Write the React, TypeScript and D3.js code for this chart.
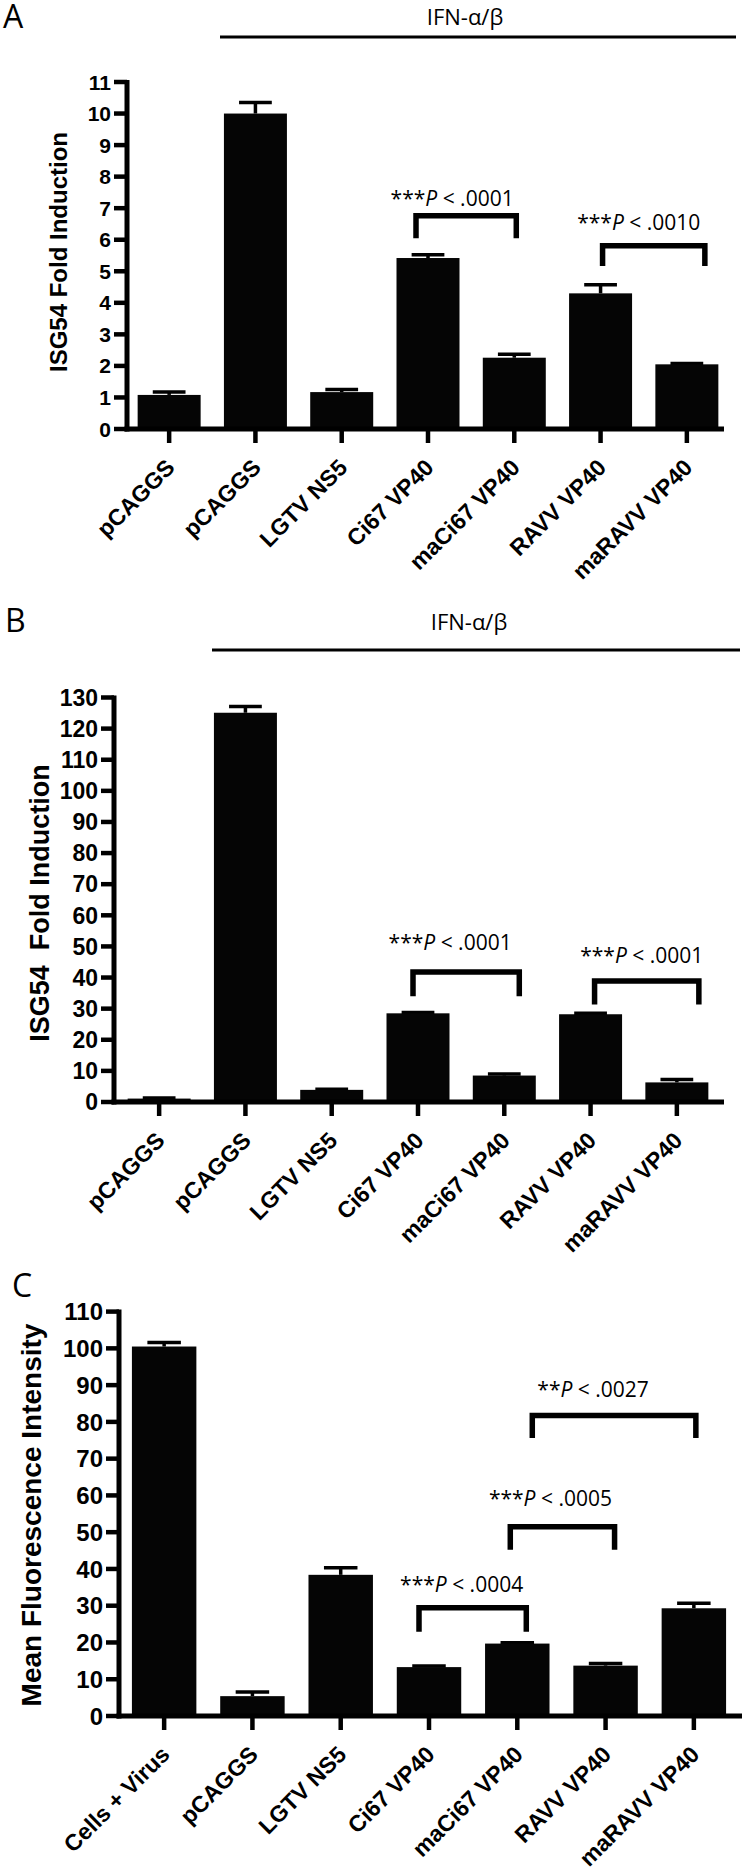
import React from 'react';
import * as d3 from 'd3';

// ---------------- DATA ----------------
const categoriesAB = ['pCAGGS', 'pCAGGS', 'LGTV NS5', 'Ci67 VP40', 'maCi67 VP40', 'RAVV VP40', 'maRAVV VP40'];
const categoriesC = ['Cells + Virus', 'pCAGGS', 'LGTV NS5', 'Ci67 VP40', 'maCi67 VP40', 'RAVV VP40', 'maRAVV VP40'];

const valuesA = [1.08, 10.0, 1.17, 5.42, 2.26, 4.3, 2.05];
const errUpperA = [1.17, 10.35, 1.25, 5.52, 2.37, 4.57, 2.08];
const ticksA = [0, 1, 2, 3, 4, 5, 6, 7, 8, 9, 10, 11];

const valuesB = [1.1, 125.1, 3.9, 28.5, 8.5, 28.2, 6.3];
const errUpperB = [1.3, 127.1, 4.1, 28.8, 9.0, 28.5, 7.2];
const ticksB = [0, 10, 20, 30, 40, 50, 60, 70, 80, 90, 100, 110, 120, 130];

const valuesC = [100.5, 5.4, 38.4, 13.3, 19.7, 13.7, 29.3];
const errUpperC = [101.6, 6.5, 40.3, 13.6, 19.9, 14.3, 30.7];
const ticksC = [0, 10, 20, 30, 40, 50, 60, 70, 80, 90, 100, 110];

// significance brackets: category indices, bracket top / leg end / label baseline in data units
const bracketsA = [
  { from: 3, to: 4, top: 6.85, leg: 6.05, labelAt: 7.07, stars: '***', p: ' < .0001' },
  { from: 5, to: 6, top: 5.9, leg: 5.17, labelAt: 6.3, stars: '***', p: ' < .0010' },
];
const bracketsB = [
  { from: 3, to: 4, top: 42.7, leg: 34, labelAt: 49, stars: '***', p: ' < .0001' },
  { from: 5, to: 6, top: 39.8, leg: 31.3, labelAt: 44.7, stars: '***', p: ' < .0001' },
];
const bracketsC = [
  { from: 3, to: 4, top: 30.2, leg: 22.9, labelAt: 33.7, stars: '***', p: ' < .0004' },
  { from: 4, to: 5, top: 52.2, leg: 45.2, labelAt: 57.2, stars: '***', p: ' < .0005' },
  { from: 4, to: 6, top: 82.5, leg: 75.6, labelAt: 86.8, stars: '**', p: ' < .0027' },
];

// ---------------- LAYOUT ----------------
const BOLD = '"Liberation Sans", Arial, Helvetica, sans-serif';
const LIGHT = '"Open Sans", "Noto Sans", sans-serif';

const layoutA = {
  letter: 'A', letterX: 3, letterY: 28,
  ifn: { textX: 465, textY: 25, y: 37, x1: 220, x2: 736 },
  axisX: 127, y0: 429, yTop: 82, bandStart: 126, bandEnd: 730, axisEnd: 724,
  title: 'ISG54 Fold Induction', titleX: 67, titleY: 252, titleSize: 24,
  tickFont: 21, labelFont: 23,
  bracketDx: [[-12, 2], [2, 18]],
  textDx: [-14, -15],
};
const layoutB = {
  letter: 'B', letterX: 5, letterY: 632,
  ifn: { textX: 469, textY: 630, y: 650, x1: 212, x2: 740 },
  axisX: 114, y0: 1102, yTop: 697.5, bandStart: 116, bandEnd: 720, axisEnd: 724,
  title: 'ISG54  Fold Induction', titleX: 49, titleY: 903, titleSize: 27,
  tickFont: 23, labelFont: 23,
  bracketDx: [[-5, 15], [4, 22]],
  textDx: [-16, -5],
};
const layoutC = {
  letter: 'C', letterX: 12, letterY: 1297,
  ifn: null,
  axisX: 119, y0: 1716, yTop: 1311.6, bandStart: 120, bandEnd: 738, axisEnd: 742,
  title: 'Mean Fluorescence Intensity', titleX: 41, titleY: 1515, titleSize: 28,
  tickFont: 24, labelFont: 23,
  bracketDx: [[-10, 9], [-7, 9], [15, 2]],
  textDx: [-11, -12, -21],
};

type Bracket = { from: number; to: number; top: number; leg: number; labelAt: number; stars: string; p: string };

function Panel({ layout, categories, values, errUpper, ticks, brackets }: any) {
  const L = layout;
  const y = d3.scaleLinear().domain([0, ticks[ticks.length - 1]]).range([L.y0, L.yTop]);
  const x = d3.scaleBand<number>()
    .domain(d3.range(categories.length))
    .range([L.bandStart, L.bandEnd])
    .paddingInner(0.27)
    .paddingOuter(0.135);
  const bw = x.bandwidth();
  const cx = (i: number) => (x(i) as number) + bw / 2;
  const axisW = 5;
  const tickLen = 13;
  const bracketW = 5.5;

  return (
    <g>
      <text x={L.letterX} y={L.letterY} fontFamily={LIGHT} fontSize={32} fill="#000">{L.letter}</text>
      {L.ifn && (
        <g>
          <text x={L.ifn.textX} y={L.ifn.textY} textAnchor="middle" fontFamily={LIGHT} fontSize={22} fill="#000">IFN-α/β</text>
          <line x1={L.ifn.x1} x2={L.ifn.x2} y1={L.ifn.y} y2={L.ifn.y} stroke="#000" strokeWidth={3} />
        </g>
      )}
      {/* y title */}
      <text
        transform={`translate(${L.titleX},${L.titleY}) rotate(-90)`}
        textAnchor="middle" fontFamily={BOLD} fontWeight="bold" fontSize={L.titleSize}
        style={{ whiteSpace: 'pre' }} fill="#000"
      >{L.title}</text>

      {/* bars */}
      {values.map((v: number, i: number) => (
        <g key={'b' + i}>
          <line x1={cx(i)} x2={cx(i)} y1={y(v)} y2={y(errUpper[i])} stroke="#000" strokeWidth={3.5} />
          <line x1={cx(i) - bw * 0.26} x2={cx(i) + bw * 0.26} y1={y(errUpper[i])} y2={y(errUpper[i])} stroke="#000" strokeWidth={3.5} />
          <rect x={x(i)} y={y(v)} width={bw} height={L.y0 - y(v)} fill="#050505" />
        </g>
      ))}

      {/* y axis */}
      <line x1={L.axisX} x2={L.axisX} y1={L.yTop - 2} y2={L.y0 + axisW / 2} stroke="#000" strokeWidth={axisW} />
      {ticks.map((t: number) => (
        <g key={'t' + t}>
          <line x1={L.axisX - tickLen} x2={L.axisX} y1={y(t)} y2={y(t)} stroke="#000" strokeWidth={4.5} />
          <text x={L.axisX - tickLen - 3} y={y(t)} dy="0.36em" textAnchor="end"
            fontFamily={BOLD} fontWeight="bold" fontSize={L.tickFont} fill="#000">{t}</text>
        </g>
      ))}

      {/* x axis */}
      <line x1={L.axisX - axisW / 2} x2={L.axisEnd} y1={L.y0} y2={L.y0} stroke="#000" strokeWidth={axisW} />
      {categories.map((c: string, i: number) => (
        <g key={'x' + i}>
          <line x1={cx(i)} x2={cx(i)} y1={L.y0} y2={L.y0 + 14} stroke="#000" strokeWidth={4.5} />
          <text transform={`translate(${cx(i) + 7},${L.y0 + 40}) rotate(-45)`} textAnchor="end"
            fontFamily={BOLD} fontWeight="bold" fontSize={L.labelFont} fill="#000">{c}</text>
        </g>
      ))}

      {/* brackets */}
      {brackets.map((b: Bracket, k: number) => {
        const x1 = cx(b.from) + L.bracketDx[k][0];
        const x2 = cx(b.to) + L.bracketDx[k][1];
        const yt = y(b.top) + bracketW / 2;
        const yl = y(b.leg);
        return (
          <g key={'br' + k}>
            <path d={`M${x1},${yl} L${x1},${yt} L${x2},${yt} L${x2},${yl}`} fill="none" stroke="#000" strokeWidth={bracketW} />
            <text x={(x1 + x2) / 2 + L.textDx[k]} y={y(b.labelAt)} textAnchor="middle" fontFamily={LIGHT} fontSize={21}
              fill="#000" style={{ whiteSpace: 'pre' }}>
              <tspan>{b.stars}</tspan>
              <tspan fontStyle="italic">P</tspan>
              <tspan>{b.p}</tspan>
            </text>
          </g>
        );
      })}
    </g>
  );
}

export default function App() {
  return (
    <svg width={744} height={1868} viewBox="0 0 744 1868"
      style={{ position: 'absolute', left: 0, top: 0, background: '#fff' }}>
      <rect width={744} height={1868} fill="#fff" />
      <Panel layout={layoutA} categories={categoriesAB} values={valuesA} errUpper={errUpperA} ticks={ticksA} brackets={bracketsA} />
      <Panel layout={layoutB} categories={categoriesAB} values={valuesB} errUpper={errUpperB} ticks={ticksB} brackets={bracketsB} />
      <Panel layout={layoutC} categories={categoriesC} values={valuesC} errUpper={errUpperC} ticks={ticksC} brackets={bracketsC} />
    </svg>
  );
}
